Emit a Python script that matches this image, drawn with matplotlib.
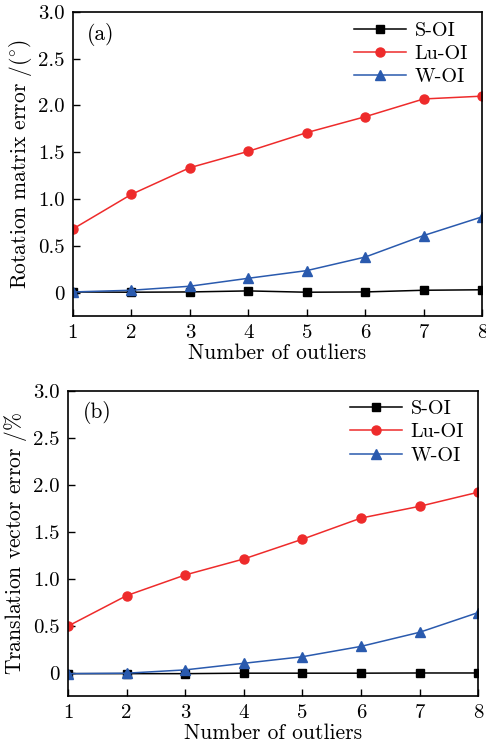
import matplotlib
matplotlib.use("Agg")
import matplotlib.pyplot as plt

plt.rcParams['font.family'] = ['cmr10', 'DejaVu Serif']
plt.rcParams['mathtext.fontset'] = 'cm'
plt.rcParams['axes.formatter.use_mathtext'] = True

x = [1, 2, 3, 4, 5, 6, 7, 8]
series_names = ["S-OI", "Lu-OI", "W-OI"]

rot_s = [0.007, 0.004, 0.007, 0.018, 0.004, 0.007, 0.025, 0.03]
rot_lu = [0.68, 1.05, 1.335, 1.51, 1.71, 1.88, 2.07, 2.10]
rot_w = [0.007, 0.025, 0.068, 0.153, 0.235, 0.38, 0.61, 0.81]

tr_s = [-0.01, -0.01, -0.01, -0.005, -0.005, -0.005, -0.003, -0.003]
tr_lu = [0.496, 0.82, 1.04, 1.21, 1.42, 1.645, 1.77, 1.92]
tr_w = [-0.01, -0.005, 0.03, 0.10, 0.17, 0.28, 0.43, 0.64]

yticks = [0, 0.5, 1.0, 1.5, 2.0, 2.5, 3.0]
ytick_labels = ["0", "0.5", "1.0", "1.5", "2.0", "2.5", "3.0"]

colors = ["#000000", "#ee2b2b", "#2a5aae"]
markers = ["s", "o", "^"]
msizes = [5.5, 6.5, 6.5]

fig = plt.figure(figsize=(4.86, 7.47), dpi=100)
ax1 = fig.add_axes([0.150, 0.577, 0.842, 0.407])
ax2 = fig.add_axes([0.140, 0.068, 0.844, 0.409])

panels = [
    (ax1, [rot_s, rot_lu, rot_w], r"Rotation matrix error /($^{\circ}$)", "(a)"),
    (ax2, [tr_s, tr_lu, tr_w], r"Translation vector error /$\%$", "(b)"),
]

for ax, data, ylabel, tag in panels:
    for ys, name, c, m, ms in zip(data, series_names, colors, markers, msizes):
        ax.plot(x, ys, color=c, marker=m, markersize=ms, linewidth=1.1, label=name)
    ax.set_xlim(1, 8)
    ax.set_ylim(-0.25, 3.0)
    ax.set_xticks(x)
    ax.set_xticklabels([str(v) for v in x])
    ax.set_yticks(yticks)
    ax.set_yticklabels(ytick_labels)
    ax.tick_params(direction="in", length=5, width=1, labelsize=15, pad=6)
    for s in ax.spines.values():
        s.set_linewidth(1.2)
    ax.set_xlabel("Number of outliers", fontsize=15.5, labelpad=1)
    ax.set_ylabel(ylabel, fontsize=15.5, labelpad=3)
    ax.text(0.035, 0.965, tag, transform=ax.transAxes, fontsize=15.5, va="top", ha="left")
    leg = ax.legend(loc="upper right", frameon=False, fontsize=14.5, handlelength=2.6,
                    handletextpad=0.4, labelspacing=0.25, borderaxespad=0.0,
                    bbox_to_anchor=(0.985, 0.995))

fig.savefig("out.png", dpi=100)
